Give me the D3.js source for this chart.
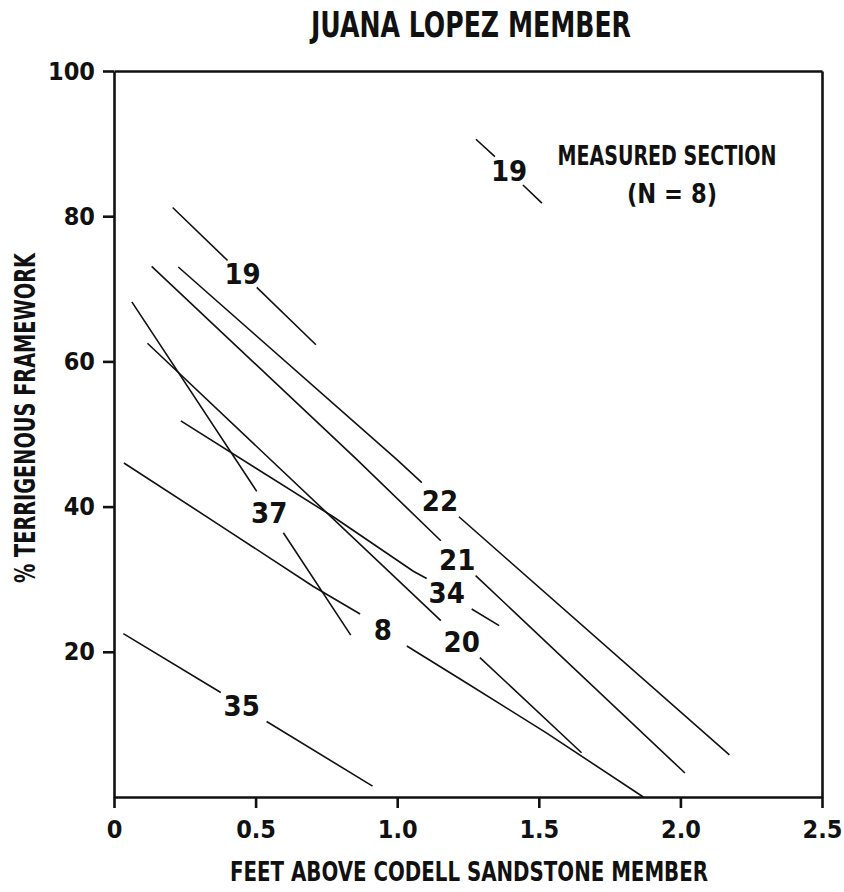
<!DOCTYPE html>
<html>
<head>
<meta charset="utf-8">
<script src="https://cdn.jsdelivr.net/npm/d3@7"></script>
<style>
  body { margin: 0; background: #fff; }
  svg text {
    font-family: "Liberation Sans Narrow", "DejaVu Sans Condensed", "Arial Narrow", sans-serif;
    font-weight: bold;
    fill: #111;
  }
</style>
</head>
<body>
<div id="chart"></div>
<script>
// axis ticks
var xTicks = [0, 0.5, 1.0, 1.5, 2.0, 2.5];
var xTickLabels = ["0", "0.5", "1.0", "1.5", "2.0", "2.5"];
var yTicks = [20, 40, 60, 80, 100];

// each sample: [feet above Codell, % terrigenous]; null = gap left for the label
var line19a = [[0.207, 81.2], [0.401, 73.9], null, [0.504, 70.2], [0.713, 62.3]];
var line19b = [[1.278, 90.6], [1.345, 88.2], null, [1.444, 84.3], [1.511, 81.8]];
var line22 = [[0.227, 73.0], [0.998, 46.5], [1.087, 43.3], null, [1.218, 38.6], [2.173, 5.8]];
var line21 = [[0.133, 73.1], [0.857, 46.5], [1.154, 35.3], null, [1.277, 30.5], [2.016, 3.3]];
var line20 = [[0.118, 62.5], [1.154, 24.3], null, [1.292, 19.2], [1.651, 6.1]];
var line34 = [[0.236, 51.8], [0.774, 38.6], [1.057, 31.1], [1.104, 30.1], null, [1.263, 25.9], [1.360, 23.6]];
var line37 = [[0.063, 68.2], [0.504, 42.1], null, [0.598, 36.4], [0.836, 22.3]];
var line8 = [[0.035, 46.0], [0.363, 37.7], [0.704, 29.0], [0.869, 25.2], null, [1.034, 20.8], [1.245, 15.7], [1.528, 8.8], [1.869, 0.0]];
var line35 = [[0.033, 22.5], [0.377, 14.4], null, [0.539, 10.4], [0.913, 1.5]];

var sampleLines = [line19a, line19b, line22, line21, line20, line34, line37, line8, line35];
var sampleIds = ["19", "19", "22", "21", "20", "34", "37", "8", "35"];
var labelX = [0.454, 1.395, 1.151, 1.212, 1.228, 1.175, 0.548, 0.949, 0.451];
var labelY = [72.1, 86.2, 40.8, 32.7, 21.4, 28.1, 39.2, 23.0, 12.6];

var width = 844, height = 892;
var plotLeft = 114, plotRight = 822, plotTop = 71, plotBottom = 797;

var svg = d3.select("#chart").append("svg")
    .attr("width", width)
    .attr("height", height);

var x = d3.scaleLinear().domain([0, 2.5]).range([plotLeft, plotRight]);
var y = d3.scaleLinear().domain([0, 100]).range([plotBottom, plotTop]);

// frame: top and right sides without ticks
svg.append("g")
    .attr("transform", "translate(0," + plotTop + ")")
    .call(d3.axisTop(x).tickValues([]).tickSizeOuter(0));
svg.append("g")
    .attr("transform", "translate(" + plotRight + ",0)")
    .call(d3.axisRight(y).tickValues([]).tickSizeOuter(0));

svg.append("g")
    .attr("transform", "translate(" + plotLeft + ",0)")
    .call(d3.axisLeft(y).tickValues(yTicks).tickSize(11).tickSizeOuter(0).tickPadding(8));

svg.append("g")
    .attr("transform", "translate(0," + plotBottom + ")")
    .call(d3.axisBottom(x).tickValues(xTicks)
        .tickFormat(function(d, i) { return xTickLabels[i]; })
        .tickSize(11).tickSizeOuter(0).tickPadding(12));

svg.selectAll(".domain, .tick line")
    .attr("stroke", "#111")
    .attr("stroke-width", 2.6);
svg.selectAll(".tick text")
    .attr("font-size", 25)
    .attr("font-family", null)
    .attr("fill", "#111");

// sample lines
var line = d3.line()
    .defined(function(d) { return d !== null; })
    .x(function(d) { return x(d[0]); })
    .y(function(d) { return y(d[1]); });

svg.append("g").selectAll("path")
    .data(sampleLines)
    .join("path")
    .attr("fill", "none")
    .attr("stroke", "#111")
    .attr("stroke-width", 1.6)
    .attr("d", line);

svg.append("g").selectAll("text")
    .data(sampleIds)
    .join("text")
    .attr("x", function(d, i) { return x(labelX[i]); })
    .attr("y", function(d, i) { return y(labelY[i]); })
    .attr("dy", "0.35em")
    .attr("text-anchor", "middle")
    .attr("font-size", 29)
    .text(function(d) { return d; });

// titles
svg.append("text")
    .attr("x", 471)
    .attr("y", 37)
    .attr("text-anchor", "middle")
    .attr("font-size", 36)
    .attr("textLength", 320)
    .attr("lengthAdjust", "spacingAndGlyphs")
    .text("JUANA LOPEZ MEMBER");

svg.append("text")
    .attr("transform", "translate(35,418) rotate(-90)")
    .attr("text-anchor", "middle")
    .attr("font-size", 28)
    .attr("textLength", 330)
    .attr("lengthAdjust", "spacingAndGlyphs")
    .text("% TERRIGENOUS FRAMEWORK");

svg.append("text")
    .attr("x", 469)
    .attr("y", 881)
    .attr("text-anchor", "middle")
    .attr("font-size", 27)
    .attr("textLength", 478)
    .attr("lengthAdjust", "spacingAndGlyphs")
    .text("FEET ABOVE CODELL SANDSTONE MEMBER");

svg.append("text")
    .attr("x", 667)
    .attr("y", 165)
    .attr("text-anchor", "middle")
    .attr("font-size", 27)
    .attr("textLength", 219)
    .attr("lengthAdjust", "spacingAndGlyphs")
    .text("MEASURED SECTION");

svg.append("text")
    .attr("x", 672)
    .attr("y", 203)
    .attr("text-anchor", "middle")
    .attr("font-size", 27)
    .attr("textLength", 90)
    .attr("lengthAdjust", "spacingAndGlyphs")
    .text("(N = 8)");
</script>
</body>
</html>
